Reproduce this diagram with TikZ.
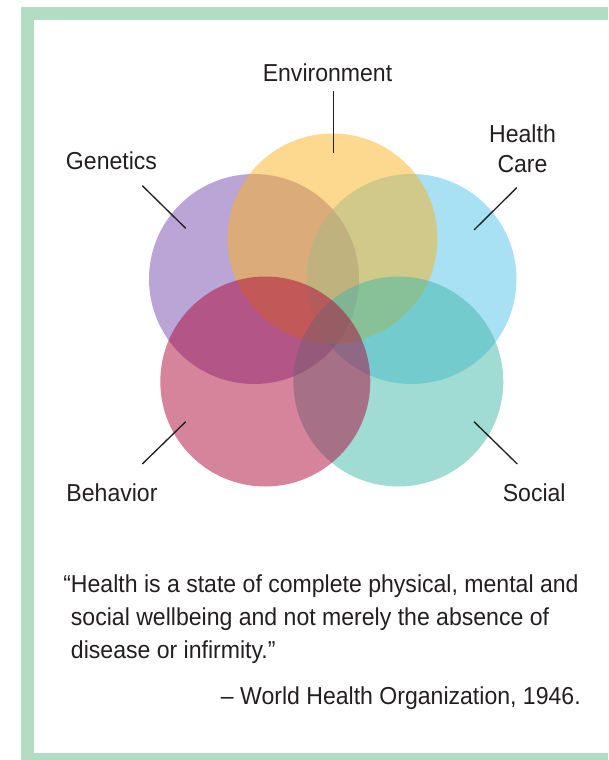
\documentclass[tikz,border=0pt]{standalone}
\usepackage{fontspec}
\setmainfont{Liberation Sans}[FakeStretch=0.94]
\definecolor{framecol}{HTML}{B2DCC4}
\definecolor{inkcol}{HTML}{231F20}
\definecolor{gencol}{HTML}{7749AD}
\definecolor{envcol}{HTML}{FBB31F}
\definecolor{hccol}{HTML}{51C1E9}
\definecolor{soccol}{HTML}{41B7A9}
\definecolor{behcol}{HTML}{AD0739}
\begin{document}
\begin{tikzpicture}[x=0.75pt, y=-0.75pt,
    lbl/.style={anchor=base, inner sep=0pt, text=inkcol,
      font=\fontsize{18.4}{22.5}\selectfont},
    quote/.style={anchor=base west, inner sep=0pt, text=inkcol,
      font=\fontsize{18.4}{24.75}\selectfont},
    blob/.style={fill opacity=0.5},
    tick/.style={draw=inkcol, line width=1pt}]
  \useasboundingbox (0,0) rectangle (608,760);
  \clip (0,0) rectangle (608,760);
  \draw[framecol, line width=9.75pt] (27.5,13.5) rectangle (640,759.5);

  % the five circles
  \fill[blob, gencol] (254,279) circle[radius=105];
  \fill[blob, hccol] (411.5,279) circle[radius=105];
  \fill[blob, envcol] (332.5,238.5) circle[radius=105];
  \fill[blob, soccol] (398.3,381.5) circle[radius=105];
  \fill[blob, behcol] (265.3,381.5) circle[radius=105];

  % labels
  \node[lbl] (env) at (327.5,81.7) {Environment};
  \node[lbl] (gen) at (111.5,169) {Genetics};
  \node[lbl, align=center, anchor=north] (hc) at (522.5,124) {Health\\Care};
  \node[lbl] (beh) at (112,501.7) {Behavior};
  \node[lbl] (soc) at (534.2,501.7) {Social};

  \coordinate (env1) at (333.3,90.7);  \coordinate (env2) at (333.3,153.3);
  \coordinate (gen1) at (142.3,185.7); \coordinate (gen2) at (185.7,228.3);
  \coordinate (hc1) at (516.7,187.7);  \coordinate (hc2) at (474,230);
  \coordinate (beh1) at (142.3,464);   \coordinate (beh2) at (185.7,421.7);
  \coordinate (soc1) at (517.3,464);   \coordinate (soc2) at (474,421.7);
  \draw[tick] (env1) -- (env2);
  \draw[tick] (gen1) -- (gen2);
  \draw[tick] (hc1) -- (hc2);
  \draw[tick] (beh1) -- (beh2);
  \draw[tick] (soc1) -- (soc2);

  % the quote
  \node[quote] (q1) at (70.7,592) {\llap{“}Health is a state of complete physical, mental and};
  \node[quote] (q2) at (70.7,625) {social wellbeing and not merely the absence of};
  \node[quote] (q3) at (70.7,658) {disease or infirmity.”};
  \node[quote, anchor=base east] (who) at (581,704) {– World Health Organization, 1946.};
\end{tikzpicture}
\end{document}
